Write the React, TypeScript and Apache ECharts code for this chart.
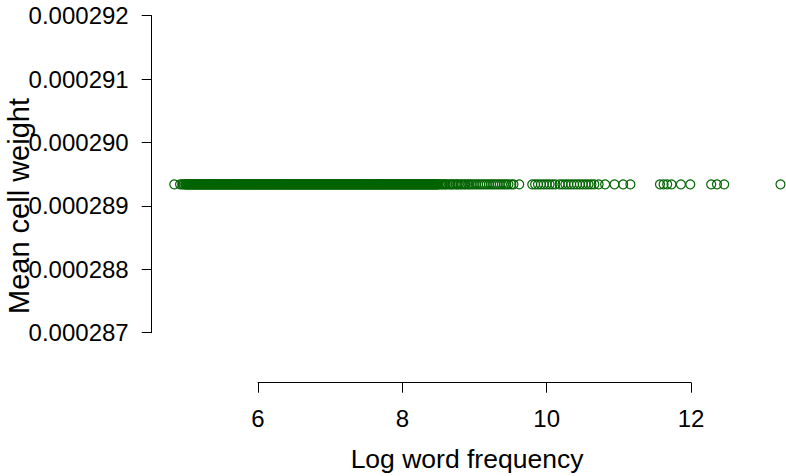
import React, { useEffect, useRef } from "react";
import * as echarts from "echarts";

// Log word frequency of each word (x) — very dense band of low-frequency words
const denseFreq: number[] = [
  4.84, 4.92, 4.95, 4.97, 4.99,
  5.00, 5.01, 5.02, 5.03, 5.04, 5.05, 5.06, 5.07, 5.08, 5.09, 5.10, 5.11, 5.12, 5.13, 5.14, 5.15, 5.16, 5.17, 5.18, 5.19,
  5.20, 5.21, 5.22, 5.23, 5.24, 5.25, 5.26, 5.27, 5.28, 5.29, 5.30, 5.31, 5.32, 5.33, 5.34, 5.35, 5.36, 5.37, 5.38, 5.39,
  5.40, 5.41, 5.42, 5.43, 5.44, 5.45, 5.46, 5.47, 5.48, 5.49, 5.50, 5.51, 5.52, 5.53, 5.54, 5.55, 5.56, 5.57, 5.58, 5.59,
  5.60, 5.61, 5.62, 5.63, 5.64, 5.65, 5.66, 5.67, 5.68, 5.69, 5.70, 5.71, 5.72, 5.73, 5.74, 5.75, 5.76, 5.77, 5.78, 5.79,
  5.80, 5.81, 5.82, 5.83, 5.84, 5.85, 5.86, 5.87, 5.88, 5.89, 5.90, 5.91, 5.92, 5.93, 5.94, 5.95, 5.96, 5.97, 5.98, 5.99,
  6.00, 6.01, 6.02, 6.03, 6.04, 6.05, 6.06, 6.07, 6.08, 6.09, 6.10, 6.11, 6.12, 6.13, 6.14, 6.15, 6.16, 6.17, 6.18, 6.19,
  6.20, 6.21, 6.22, 6.23, 6.24, 6.25, 6.26, 6.27, 6.28, 6.29, 6.30, 6.31, 6.32, 6.33, 6.34, 6.35, 6.36, 6.37, 6.38, 6.39,
  6.40, 6.41, 6.42, 6.43, 6.44, 6.45, 6.46, 6.47, 6.48, 6.49, 6.50, 6.51, 6.52, 6.53, 6.54, 6.55, 6.56, 6.57, 6.58, 6.59,
  6.60, 6.61, 6.62, 6.63, 6.64, 6.65, 6.66, 6.67, 6.68, 6.69, 6.70, 6.71, 6.72, 6.73, 6.74, 6.75, 6.76, 6.77, 6.78, 6.79,
  6.80, 6.81, 6.82, 6.83, 6.84, 6.85, 6.86, 6.87, 6.88, 6.89, 6.90, 6.91, 6.92, 6.93, 6.94, 6.95, 6.96, 6.97, 6.98, 6.99,
  7.00, 7.01, 7.02, 7.03, 7.04, 7.05, 7.06, 7.07, 7.08, 7.09, 7.10, 7.11, 7.12, 7.13, 7.14, 7.15, 7.16, 7.17, 7.18, 7.19,
  7.20, 7.21, 7.22, 7.23, 7.24, 7.25, 7.26, 7.27, 7.28, 7.29, 7.30, 7.31, 7.32, 7.33, 7.34, 7.35, 7.36, 7.37, 7.38, 7.39,
  7.40, 7.41, 7.42, 7.43, 7.44, 7.45, 7.46, 7.47, 7.48, 7.49, 7.50, 7.51, 7.52, 7.53, 7.54, 7.55, 7.56, 7.57, 7.58, 7.59,
  7.60, 7.61, 7.62, 7.63, 7.64, 7.65, 7.66, 7.67, 7.68, 7.69, 7.70, 7.71, 7.72, 7.73, 7.74, 7.75, 7.76, 7.77, 7.78, 7.79,
  7.80, 7.81, 7.82, 7.83, 7.84, 7.85, 7.86, 7.87, 7.88, 7.89, 7.90, 7.91, 7.92, 7.93, 7.94, 7.95, 7.96, 7.97, 7.98, 7.99,
  8.00, 8.01, 8.02, 8.03, 8.04, 8.05, 8.06, 8.07, 8.08, 8.09, 8.10, 8.11, 8.12, 8.13, 8.14, 8.15, 8.16, 8.17, 8.18, 8.19,
  8.20, 8.21, 8.22, 8.23, 8.24, 8.25, 8.26, 8.27, 8.28, 8.29, 8.30, 8.31, 8.32, 8.33, 8.34, 8.35, 8.36, 8.37, 8.38, 8.39,
  8.40, 8.41, 8.42, 8.43, 8.44, 8.45, 8.46, 8.47, 8.48, 8.49, 8.50,
];
// Less dense mid-frequency words
const midFreq: number[] = [
  8.52, 8.54, 8.56, 8.58, 8.60, 8.62, 8.65, 8.67, 8.69, 8.71, 8.74, 8.76, 8.78, 8.81, 8.83, 8.86, 8.88, 8.91, 8.93,
  8.96, 8.99, 9.02, 9.05, 9.08, 9.11, 9.14, 9.17, 9.20, 9.23, 9.26, 9.29, 9.32, 9.35, 9.38, 9.41, 9.44, 9.47, 9.51,
  9.54, 9.62, 9.80, 9.84, 9.88, 9.92, 9.96, 10.00, 10.04, 10.08, 10.12, 10.18, 10.22, 10.26, 10.30, 10.34, 10.38,
  10.42, 10.46, 10.50, 10.54, 10.58, 10.62, 10.66, 10.72,
];
// Sparse high-frequency words
const sparseFreq: number[] = [
  10.81, 10.94, 11.06, 11.16, 11.57, 11.62, 11.67, 11.73, 11.86, 11.99, 12.28, 12.36, 12.46, 13.24,
];
// Mean cell weight (identical for every word)
const meanCellWeight = 0.00028934;

// Axis ticks
const xTicks = [6, 8, 10, 12];
const yTicks = [0.000287, 0.000288, 0.000289, 0.00029, 0.000291, 0.000292];

const SCALE = 1e6; // y values drawn in millionths to keep tick steps exact

export default function App() {
  const ref = useRef<HTMLDivElement>(null);

  useEffect(() => {
    if (!ref.current) return;
    const chart = echarts.init(ref.current, undefined, { renderer: "svg" });
    const allFreq = [...denseFreq, ...midFreq, ...sparseFreq];
    const data = allFreq.map((x) => [x, meanCellWeight * SCALE]);
    const font = "'Liberation Sans', Arial, Helvetica, sans-serif";
    const yMin = Math.round(yTicks[0] * SCALE);
    const yMax = Math.round(yTicks[yTicks.length - 1] * SCALE);

    chart.setOption({
      animation: false,
      backgroundColor: "#ffffff",
      grid: { left: 258, top: 15.7, width: 433, height: 317, containLabel: false },
      xAxis: {
        type: "value",
        min: xTicks[0],
        max: xTicks[xTicks.length - 1],
        interval: 2,
        offset: 50,
        splitLine: { show: false },
        axisLine: { show: true, lineStyle: { color: "#000", width: 1 } },
        axisTick: { show: true, length: 10, inside: false, lineStyle: { color: "#000" } },
        axisLabel: { color: "#000", fontSize: 24, fontFamily: font, margin: 24 },
      },
      yAxis: {
        type: "value",
        min: yMin,
        max: yMax,
        interval: 1,
        offset: 106.3,
        splitLine: { show: false },
        axisLine: { show: true, lineStyle: { color: "#000", width: 1 } },
        axisTick: { show: true, length: 10, lineStyle: { color: "#000" } },
        axisLabel: {
          color: "#000",
          fontSize: 24,
          fontFamily: font,
          margin: 23,
          formatter: (v: number) => (v / SCALE).toFixed(6),
        },
      },
      graphic: [
        {
          type: "text",
          x: 467,
          y: 459,
          style: {
            text: "Log word frequency",
            fill: "#000",
            font: `26.5px ${font}`,
            align: "center",
            verticalAlign: "middle",
          },
        },
        {
          type: "text",
          x: 19,
          y: 206,
          rotation: Math.PI / 2,
          style: {
            text: "Mean cell weight",
            fill: "#000",
            font: `29px ${font}`,
            align: "center",
            verticalAlign: "middle",
          },
        },
      ],
      series: [
        {
          type: "scatter",
          data,
          clip: false,
          symbol: "circle",
          symbolSize: 9,
          itemStyle: { color: "rgba(0,0,0,0)", borderColor: "#006400", borderWidth: 1.2, opacity: 1 },
          emphasis: { disabled: true },
        },
      ],
    });
    return () => chart.dispose();
  }, []);

  return (
    <div
      ref={ref}
      style={{ position: "absolute", left: 0, top: 0, width: 786, height: 476, background: "#fff" }}
    />
  );
}
